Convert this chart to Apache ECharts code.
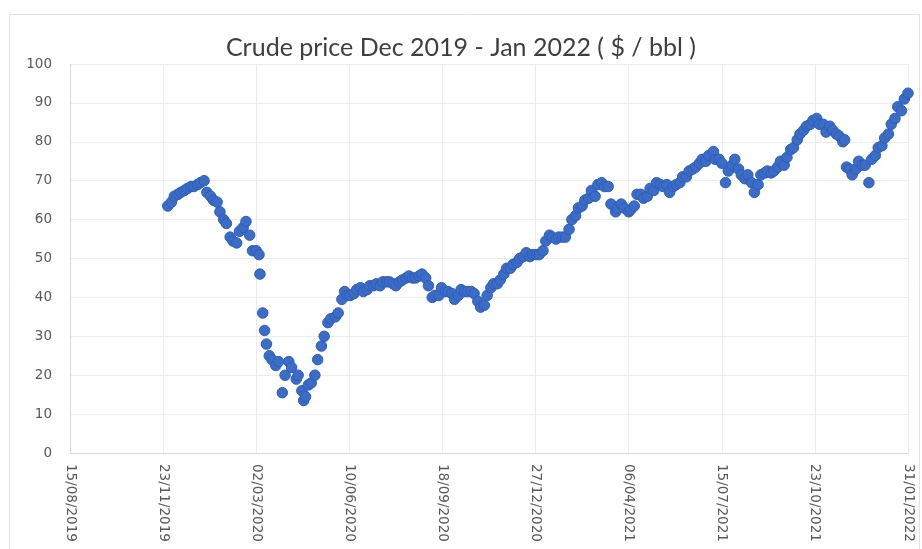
<!DOCTYPE html>
<html>
<head>
<meta charset="utf-8">
<script src="https://cdn.jsdelivr.net/npm/echarts@6/dist/echarts.min.js"></script>
<style>
  html, body { margin: 0; padding: 0; background: #fff; }
  #main { width: 922px; height: 549px; }
</style>
</head>
<body>
<div id="main"></div>
<script>
// x axis: days counted from 15/08/2019, one tick every 100 days
const startDate = '2019-08-15'
const xTickDays = [0, 100, 200, 300, 400, 500, 600, 700, 800, 900]
const yTicks = [0, 10, 20, 30, 40, 50, 60, 70, 80, 90, 100]

// crude price, $/bbl (about twice a week)
const dates = [
  // Dec 2019
  '2019-11-28', '2019-12-02', '2019-12-05', '2019-12-09', '2019-12-12', '2019-12-16', '2019-12-19', '2019-12-23', '2019-12-26', '2019-12-30',
  // Jan 2020
  '2020-01-02', '2020-01-06', '2020-01-09', '2020-01-13', '2020-01-16', '2020-01-20', '2020-01-23', '2020-01-27', '2020-01-30',
  // Feb 2020
  '2020-02-03', '2020-02-06', '2020-02-10', '2020-02-13', '2020-02-17', '2020-02-20', '2020-02-24', '2020-02-27',
  // Mar 2020
  '2020-03-02', '2020-03-05', '2020-03-06', '2020-03-09', '2020-03-11', '2020-03-13', '2020-03-16', '2020-03-19', '2020-03-23', '2020-03-26', '2020-03-30',
  // Apr 2020
  '2020-04-02', '2020-04-06', '2020-04-09', '2020-04-14', '2020-04-16', '2020-04-20', '2020-04-22', '2020-04-24', '2020-04-27', '2020-04-30',
  // May 2020
  '2020-05-04', '2020-05-07', '2020-05-11', '2020-05-14', '2020-05-18', '2020-05-21', '2020-05-26', '2020-05-29',
  // Jun 2020
  '2020-06-02', '2020-06-05', '2020-06-08', '2020-06-11', '2020-06-15', '2020-06-18', '2020-06-22', '2020-06-25', '2020-06-29',
  // Jul 2020
  '2020-07-02', '2020-07-06', '2020-07-09', '2020-07-13', '2020-07-16', '2020-07-20', '2020-07-23', '2020-07-27', '2020-07-30',
  // Aug 2020
  '2020-08-03', '2020-08-06', '2020-08-10', '2020-08-13', '2020-08-17', '2020-08-20', '2020-08-24', '2020-08-27', '2020-08-31',
  // Sep 2020
  '2020-09-03', '2020-09-07', '2020-09-10', '2020-09-14', '2020-09-17', '2020-09-21', '2020-09-24', '2020-09-28',
  // Oct 2020
  '2020-10-01', '2020-10-05', '2020-10-08', '2020-10-12', '2020-10-15', '2020-10-19', '2020-10-22', '2020-10-26', '2020-10-29',
  // Nov 2020
  '2020-11-02', '2020-11-05', '2020-11-09', '2020-11-12', '2020-11-16', '2020-11-19', '2020-11-23', '2020-11-26', '2020-11-30',
  // Dec 2020
  '2020-12-03', '2020-12-07', '2020-12-10', '2020-12-14', '2020-12-17', '2020-12-21', '2020-12-24', '2020-12-28', '2020-12-31',
  // Jan 2021
  '2021-01-04', '2021-01-07', '2021-01-11', '2021-01-14', '2021-01-18', '2021-01-21', '2021-01-25', '2021-01-28',
  // Feb 2021
  '2021-02-01', '2021-02-04', '2021-02-08', '2021-02-11', '2021-02-15', '2021-02-18', '2021-02-22', '2021-02-25',
  // Mar 2021
  '2021-03-01', '2021-03-04', '2021-03-08', '2021-03-11', '2021-03-15', '2021-03-18', '2021-03-23', '2021-03-25', '2021-03-29',
  // Apr 2021
  '2021-04-01', '2021-04-06', '2021-04-08', '2021-04-12', '2021-04-15', '2021-04-19', '2021-04-22', '2021-04-26', '2021-04-29',
  // May 2021
  '2021-05-03', '2021-05-06', '2021-05-10', '2021-05-13', '2021-05-17', '2021-05-20', '2021-05-24', '2021-05-27', '2021-05-31',
  // Jun 2021
  '2021-06-03', '2021-06-07', '2021-06-10', '2021-06-14', '2021-06-17', '2021-06-21', '2021-06-24', '2021-06-28',
  // Jul 2021
  '2021-07-01', '2021-07-06', '2021-07-08', '2021-07-12', '2021-07-15', '2021-07-19', '2021-07-22', '2021-07-26', '2021-07-29',
  // Aug 2021
  '2021-08-02', '2021-08-05', '2021-08-09', '2021-08-12', '2021-08-16', '2021-08-19', '2021-08-23', '2021-08-26', '2021-08-30',
  // Sep 2021
  '2021-09-02', '2021-09-06', '2021-09-09', '2021-09-13', '2021-09-16', '2021-09-20', '2021-09-23', '2021-09-27', '2021-09-30',
  // Oct 2021
  '2021-10-04', '2021-10-07', '2021-10-11', '2021-10-14', '2021-10-18', '2021-10-21', '2021-10-25', '2021-10-28',
  // Nov 2021
  '2021-11-01', '2021-11-04', '2021-11-08', '2021-11-11', '2021-11-15', '2021-11-18', '2021-11-22', '2021-11-24', '2021-11-26', '2021-11-29',
  // Dec 2021
  '2021-12-02', '2021-12-06', '2021-12-09', '2021-12-13', '2021-12-16', '2021-12-20', '2021-12-23', '2021-12-27', '2021-12-30',
  // Jan 2022
  '2022-01-03', '2022-01-06', '2022-01-10', '2022-01-13', '2022-01-17', '2022-01-20', '2022-01-24', '2022-01-27', '2022-01-31'
]
const prices = [
  // Dec 2019
  63.5, 64.5, 66, 66.5, 67, 67.5, 68, 68.5, 68.5, 69,
  // Jan 2020
  69.5, 70, 67, 66, 65, 64.5, 62, 60, 59,
  // Feb 2020
  55.5, 54.5, 54, 57, 58, 59.5, 56, 52,
  // Mar 2020
  52, 51, 46, 36, 31.5, 28, 25, 24, 22.5, 23.5, 15.5,
  // Apr 2020
  20, 23.5, 22, 19, 20, 16, 13.5, 14.5, 17.5, 18,
  // May 2020
  20, 24, 27.5, 30, 33.5, 34.5, 35, 36,
  // Jun 2020
  39.5, 41.5, 40.5, 40.5, 41, 42, 42.5, 41.5, 42,
  // Jul 2020
  43, 43, 43.5, 43, 44, 44, 44, 43.5, 43,
  // Aug 2020
  44, 44.5, 45, 45.5, 45, 45, 45.5, 46, 45,
  // Sep 2020
  43, 40, 40.5, 40.5, 42.5, 41.5, 41.5, 41,
  // Oct 2020
  39.5, 40.5, 42, 41.5, 41.5, 41.5, 41, 39, 37.5,
  // Nov 2020
  38, 40.5, 42.5, 43.5, 43.5, 44.5, 46, 47.5, 47.5,
  // Dec 2020
  48.5, 49, 50, 50.5, 51.5, 50.5, 51, 51, 51,
  // Jan 2021
  52, 54.5, 56, 55.5, 55, 55.5, 55.5, 55.5,
  // Feb 2021
  57.5, 60, 61, 63, 63.5, 65, 65.5, 67.5,
  // Mar 2021
  66, 69, 69.5, 68.5, 68.5, 64, 62, 63, 64,
  // Apr 2021
  63, 62, 62.5, 63.5, 66.5, 66.5, 65.5, 66, 68,
  // May 2021
  67.5, 69.5, 69, 68.5, 69, 67, 68.5, 69, 69.5,
  // Jun 2021
  71, 71, 72.5, 73, 73.5, 74.5, 75.5, 75,
  // Jul 2021
  76.5, 77.5, 75.5, 75.5, 74.5, 69.5, 72.5, 74, 75.5,
  // Aug 2021
  73, 71.5, 70.5, 71.5, 69.5, 67, 69, 71.5, 72,
  // Sep 2021
  72.5, 72, 72.5, 73.5, 75, 74, 76, 78, 78.5,
  // Oct 2021
  80.5, 82, 83, 84, 84.5, 85.5, 86, 84.5,
  // Nov 2021
  84.5, 82.5, 84, 83, 82, 81.5, 80, 80.5, 73.5, 73,
  // Dec 2021
  71.5, 73, 75, 74, 74, 69.5, 75.5, 76.5, 78.5,
  // Jan 2022
  79, 81, 82, 84.5, 86, 89, 88, 91, 92.5
]

const DAY = 86400000
const t0 = Date.parse(startDate + 'T00:00:00Z')

function dayOf(s) {
  return Math.round((Date.parse(s + 'T00:00:00Z') - t0) / DAY)
}

function fmtDay(d) {
  let dt = new Date(t0 + d * DAY)
  let dd = String(dt.getUTCDate()).padStart(2, '0')
  let mm = String(dt.getUTCMonth() + 1).padStart(2, '0')
  return dd + '/' + mm + '/' + dt.getUTCFullYear()
}

let points = dates.map((d, i) => [dayOf(d), prices[i]])

let chart = echarts.init(document.getElementById('main'), null, { renderer: 'canvas' })

let option = {
  backgroundColor: '#fff',
  animation: false,
  graphic: [{
    type: 'rect',
    shape: { x: 9.5, y: 14.5, width: 910, height: 540 },
    style: { fill: 'none', stroke: '#e3e3e3', lineWidth: 1 },
    silent: true
  }],
  title: {
    text: 'Crude price Dec 2019 - Jan 2022 ( $ / bbl )',
    left: 'center',
    top: 30,
    textStyle: {
      fontFamily: 'Lato',
      fontSize: 25,
      fontWeight: 'normal',
      color: '#3f3f3f'
    }
  },
  grid: {
    left: 70,
    right: 14,
    top: 64,
    bottom: 96
  },
  xAxis: {
    type: 'value',
    min: xTickDays[0],
    max: xTickDays[xTickDays.length - 1],
    interval: 100,
    axisLine: { show: true, lineStyle: { color: '#d9d9d9', width: 1 } },
    axisTick: { show: false },
    splitLine: { show: true, lineStyle: { color: '#ececec', width: 1 } },
    axisLabel: {
      rotate: -90,
      margin: 11,
      fontFamily: 'DejaVu Sans',
      fontSize: 13.5,
      color: '#595959',
      formatter: v => fmtDay(v)
    }
  },
  yAxis: {
    type: 'value',
    min: yTicks[0],
    max: yTicks[yTicks.length - 1],
    interval: 10,
    axisLine: { show: true, lineStyle: { color: '#d9d9d9', width: 1 } },
    axisTick: { show: false },
    splitLine: { show: true, lineStyle: { color: '#ececec', width: 1 } },
    axisLabel: {
      margin: 18,
      fontFamily: 'DejaVu Sans',
      fontSize: 13.5,
      color: '#595959'
    }
  },
  series: [{
    name: 'Crude price',
    type: 'scatter',
    data: points,
    symbol: 'circle',
    symbolSize: 10.5,
    itemStyle: {
      color: '#3a6cc8',
      opacity: 1,
      borderColor: '#2e5eb6',
      borderWidth: 1
    }
  }]
}

chart.setOption(option)
</script>
</body>
</html>
